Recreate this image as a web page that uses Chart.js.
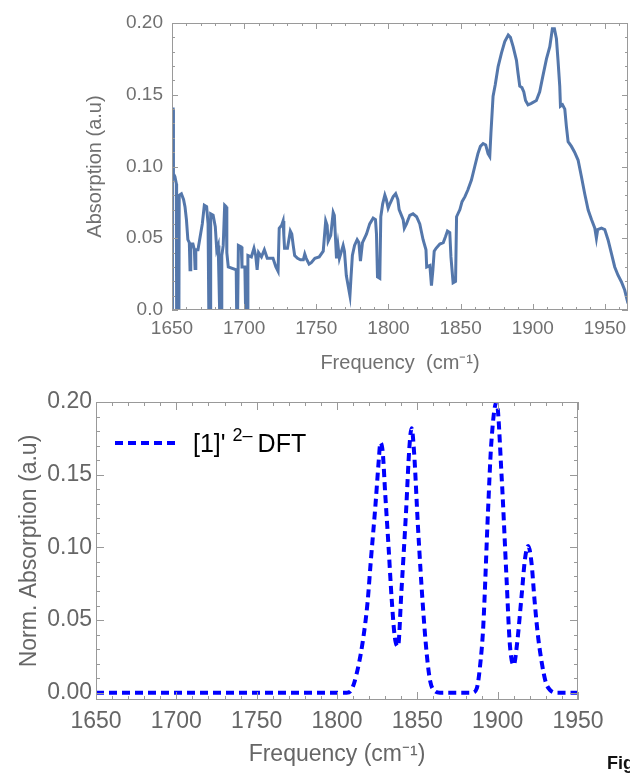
<!DOCTYPE html>
<html>
<head>
<meta charset="utf-8">
<script src="https://cdn.jsdelivr.net/npm/chart.js"></script>
<style>
  html, body { margin: 0; padding: 0; background: #fff; }
  body { width: 630px; height: 773px; position: relative; overflow: hidden; }
  canvas { position: absolute; left: 0; }
  #top { top: 0; }
  #bottom { top: 380px; }
  #fig { position: absolute; left: 607px; top: 753px; font: bold 18px "Liberation Sans", sans-serif; color: #111; white-space: nowrap; }
</style>
</head>
<body>
<canvas id="top" width="630" height="380"></canvas>
<canvas id="bottom" width="630" height="393"></canvas>
<div id="fig">Fig</div>
<script>
// measured spectrum (top panel)
const expFreq = [1650.0, 1650.3, 1650.8, 1651, 1652, 1653, 1653.2, 1654.8, 1655, 1656.5, 1658, 1659, 1660, 1661, 1662, 1662.5, 1663, 1664.5, 1665.5, 1666, 1666.5, 1668, 1669.5, 1671, 1672.4, 1674, 1675, 1675.5, 1676.5, 1676.8, 1678.5, 1680, 1681, 1682, 1682.5, 1683, 1684, 1684.5, 1685.5, 1686.5, 1687.5, 1688, 1689, 1694.5, 1694.8, 1695.5, 1696, 1698, 1698.5, 1700.5, 1701, 1702, 1702.6, 1705, 1706.8, 1708, 1709, 1710, 1712, 1714, 1716, 1718, 1720, 1722, 1723.5, 1724.3, 1726, 1727, 1727.5, 1728, 1730, 1731, 1732, 1733, 1734, 1735, 1737, 1739, 1741, 1742, 1743, 1745, 1746.5, 1749, 1752, 1754.8, 1756.5, 1757.5, 1758.2, 1760, 1761.7, 1762.5, 1763.3, 1764, 1765, 1766, 1768.6, 1769.5, 1770.8, 1773.3, 1774, 1775, 1776.5, 1778.3, 1779.5, 1780.6, 1782, 1784.8, 1787, 1789.4, 1791, 1791.7, 1792.4, 1794, 1794.7, 1796, 1797.5, 1798.5, 1799.8, 1801, 1803.3, 1805, 1806.5, 1807.4, 1810.2, 1811, 1812.5, 1814.8, 1817, 1819.5, 1821.7, 1824, 1826, 1826.5, 1828.7, 1829.8, 1830.8, 1831.7, 1833, 1835.6, 1838, 1839.5, 1840.9, 1842.5, 1843.3, 1844.8, 1846.5, 1847.2, 1849.5, 1851, 1853, 1855, 1857.5, 1859.8, 1862, 1863.7, 1865.6, 1867.4, 1869, 1870.2, 1871, 1872.5, 1874, 1876, 1878.3, 1880.6, 1883, 1884.5, 1886.4, 1888.7, 1889.8, 1891, 1892.5, 1893.8, 1895, 1896.7, 1899, 1902.5, 1904.8, 1907, 1909.5, 1911.8, 1913.6, 1915, 1916.4, 1917.5, 1918.7, 1919.2, 1920.6, 1922.2, 1923.3, 1924.5, 1926.8, 1929, 1931.4, 1933.7, 1936, 1938.4, 1940.7, 1943, 1944.1, 1945, 1947.6, 1949.9, 1952.2, 1954.5, 1956.8, 1959, 1961.4, 1963.7, 1966];
const expAbs = [0.0, 0.14, 0.14, 0.095, 0.093, 0.088, 0.0, 0.0, 0.08, 0.081, 0.077, 0.072, 0.063, 0.049, 0.047, 0.028, 0.046, 0.046, 0.042, 0.029, 0.042, 0.042, 0.051, 0.06, 0.073, 0.072, 0.06, 0.0, 0.0, 0.067, 0.066, 0.058, 0.042, 0.045, 0.023, 0.0, 0.0, 0.038, 0.045, 0.073, 0.072, 0.04, 0.03, 0.028, 0.0, 0.0, 0.045, 0.044, 0.03, 0.03, 0.0, 0.0, 0.038, 0.037, 0.043, 0.038, 0.028, 0.04, 0.037, 0.042, 0.036, 0.036, 0.036, 0.03, 0.027, 0.057, 0.059, 0.062, 0.052, 0.043, 0.043, 0.049, 0.055, 0.053, 0.045, 0.038, 0.036, 0.035, 0.035, 0.039, 0.036, 0.032, 0.033, 0.036, 0.037, 0.041, 0.062, 0.059, 0.048, 0.052, 0.068, 0.066, 0.05, 0.036, 0.045, 0.036, 0.045, 0.041, 0.024, 0.01, 0.022, 0.038, 0.045, 0.049, 0.047, 0.034, 0.047, 0.053, 0.06, 0.064, 0.063, 0.053, 0.023, 0.022, 0.065, 0.074, 0.08, 0.077, 0.071, 0.074, 0.079, 0.081, 0.077, 0.07, 0.063, 0.057, 0.06, 0.066, 0.067, 0.065, 0.06, 0.049, 0.042, 0.03, 0.031, 0.017, 0.028, 0.041, 0.043, 0.046, 0.047, 0.051, 0.055, 0.054, 0.037, 0.019, 0.02, 0.065, 0.07, 0.0755, 0.079, 0.0836, 0.0906, 0.1, 0.109, 0.114, 0.116, 0.115, 0.109, 0.107, 0.123, 0.149, 0.157, 0.1696, 0.179, 0.187, 0.1916, 0.19, 0.1835, 0.174, 0.165, 0.156, 0.155, 0.152, 0.146, 0.143, 0.144, 0.146, 0.152, 0.163, 0.175, 0.1835, 0.196, 0.196, 0.189, 0.174, 0.156, 0.142, 0.143, 0.14, 0.128, 0.1173, 0.114, 0.11, 0.1045, 0.093, 0.081, 0.0697, 0.063, 0.057, 0.05, 0.056, 0.057, 0.056, 0.0488, 0.0395, 0.03, 0.0244, 0.0197, 0.0139, 0.0046];

// DFT spectrum (bottom panel)
const dftFreq = [1650, 1700, 1750, 1800, 1806, 1809, 1812, 1816, 1819, 1821, 1824, 1826, 1827, 1828.5, 1830, 1832, 1834, 1836, 1838, 1840, 1843, 1845, 1846.4, 1848, 1850.4, 1853.5, 1856, 1858, 1861, 1864, 1884, 1887, 1889, 1891, 1894, 1896, 1899.3, 1902.5, 1905.5, 1907.6, 1910, 1912, 1915, 1917, 1919, 1921, 1923, 1925, 1927.4, 1930, 1932.5, 1936, 1950];
const dftAbs = [0, 0, 0, 0, 0, 0.002, 0.012, 0.035, 0.062, 0.09, 0.13, 0.16, 0.172, 0.165, 0.137, 0.102, 0.065, 0.038, 0.032, 0.068, 0.125, 0.168, 0.182, 0.165, 0.114, 0.059, 0.025, 0.008, 0.001, 0, 0, 0.003, 0.018, 0.045, 0.125, 0.171, 0.2, 0.148, 0.079, 0.033, 0.019, 0.033, 0.068, 0.092, 0.101, 0.09, 0.063, 0.04, 0.021, 0.007, 0.002, 0, 0];

const freqTicks = [1650, 1700, 1750, 1800, 1850, 1900, 1950];
const absTicks = [0, 0.05, 0.1, 0.15, 0.2];
const dftLabel = ["[1]'", '2\u2013', 'DFT'];

const toPoints = (xs, ys) => xs.map((x, i) => ({ x: x, y: ys[i] }));

// Mathematica-like frame with inward ticks on all four sides
const framePlugin = {
  id: 'frame',
  afterDatasetsDraw(chart, args, o) {
    const { ctx, chartArea: a, scales: { x, y } } = chart;
    ctx.save();
    ctx.strokeStyle = o.color;
    ctx.lineWidth = 1;
    ctx.strokeRect(a.left + 0.5, a.top + 0.5, a.right - a.left - 1, a.bottom - a.top - 1);
    ctx.beginPath();
    const nx = Math.round((x.max - o.x0) / o.xMinor);
    for (let i = 0; i <= nx; i++) {
      const v = o.x0 + i * o.xMinor;
      if (v > x.max) break;
      const len = (i % o.xEvery === 0) ? o.major : o.minor;
      const px = Math.round(x.getPixelForValue(v)) + 0.5;
      ctx.moveTo(px, a.bottom); ctx.lineTo(px, a.bottom - len);
      ctx.moveTo(px, a.top); ctx.lineTo(px, a.top + len);
    }
    const ny = Math.round((y.max - o.y0) / o.yMinor);
    for (let i = 0; i <= ny; i++) {
      const v = o.y0 + i * o.yMinor;
      const len = (i % o.yEvery === 0) ? o.major : o.minor;
      const py = Math.round(y.getPixelForValue(v)) + 0.5;
      ctx.moveTo(a.left, py); ctx.lineTo(a.left + len, py);
      ctx.moveTo(a.right, py); ctx.lineTo(a.right - len, py);
    }
    ctx.stroke();
    ctx.restore();
  }
};

const legendPlugin = {
  id: 'dftLegend',
  afterDraw(chart) {
    const ctx = chart.ctx;
    ctx.save();
    ctx.strokeStyle = '#0000ff';
    ctx.lineWidth = 4;
    ctx.setLineDash([8, 5]);
    ctx.beginPath();
    ctx.moveTo(115, 63); ctx.lineTo(178, 63);
    ctx.stroke();
    ctx.fillStyle = '#000';
    ctx.textBaseline = 'alphabetic';
    ctx.font = '25px "Liberation Sans", Arial, sans-serif';
    ctx.fillText(dftLabel[0], 193, 72);
    let xPos = 193 + ctx.measureText(dftLabel[0]).width + 7;
    ctx.font = '18px "Liberation Sans", Arial, sans-serif';
    ctx.fillText(dftLabel[1], xPos, 61);
    xPos += ctx.measureText(dftLabel[1]).width + 5;
    ctx.font = '25px "Liberation Sans", Arial, sans-serif';
    ctx.fillText(dftLabel[2], xPos, 72);
    ctx.restore();
  }
};

// top panel: experiment
new Chart(document.getElementById('top'), {
  type: 'line',
  data: {
    datasets: [{
      data: toPoints(expFreq, expAbs),
      borderColor: '#5477ab',
      borderWidth: 3,
      pointRadius: 0,
      tension: 0
    }]
  },
  options: {
    responsive: false,
    animation: false,
    devicePixelRatio: 1,
    layout: { padding: { top: 23, right: 2, left: 0, bottom: 0 } },
    plugins: {
      legend: { display: false },
      tooltip: { enabled: false },
      frame: { color: '#9a9a9a', x0: 1650, xMinor: 10, xEvery: 5, y0: 0, yMinor: 0.01, yEvery: 5, major: 6, minor: 3 }
    },
    scales: {
      x: {
        type: 'linear', min: 1650, max: 1966,
        afterBuildTicks: s => { s.ticks = freqTicks.map(v => ({ value: v })); },
        afterFit: s => { s.height = 70; },
        grid: { display: false },
        border: { display: false },
        ticks: { color: '#707070', font: { family: 'Liberation Sans', size: 19 }, padding: -1, maxRotation: 0, callback: v => String(v) },
        title: { display: true, text: 'Frequency  (cm\u207B\u00B9)', color: '#707070', font: { family: 'Liberation Sans', size: 20 }, padding: { bottom: 5 } }
      },
      y: {
        min: 0, max: 0.2,
        afterBuildTicks: s => { s.ticks = absTicks.map(v => ({ value: v })); },
        afterFit: s => { s.width = 172; },
        grid: { display: false },
        border: { display: false },
        ticks: { color: '#707070', font: { family: 'Liberation Sans', size: 19 }, padding: 1, callback: v => v === 0 ? '0.0' : v.toFixed(2) },
        title: { display: true, text: 'Absorption (a.u)', color: '#707070', font: { family: 'Liberation Sans', size: 20 }, padding: { top: 83 } }
      }
    }
  },
  plugins: [framePlugin]
});

// bottom panel: DFT
new Chart(document.getElementById('bottom'), {
  type: 'line',
  data: {
    datasets: [{
      data: toPoints(dftFreq, dftAbs),
      borderColor: '#0000ff',
      borderWidth: 4,
      borderDash: [8, 5],
      pointRadius: 0,
      cubicInterpolationMode: 'monotone'
    }]
  },
  options: {
    responsive: false,
    animation: false,
    devicePixelRatio: 1,
    layout: { padding: { top: 22, right: 52, left: 0, bottom: 0 } },
    plugins: {
      legend: { display: false },
      tooltip: { enabled: false },
      frame: { color: '#999999', x0: 1650, xMinor: 10, xEvery: 5, y0: 0, yMinor: 0.01, yEvery: 5, major: 8, minor: 4 }
    },
    scales: {
      x: {
        type: 'linear', min: 1650, max: 1950,
        afterBuildTicks: s => { s.ticks = freqTicks.map(v => ({ value: v })); },
        afterFit: s => { s.height = 73; },
        grid: { display: false },
        border: { display: false },
        ticks: { color: '#666666', font: { family: 'Liberation Sans', size: 23 }, padding: 0, maxRotation: 0, callback: v => String(v) },
        title: { display: true, text: 'Frequency (cm\u207B\u00B9)', color: '#666666', font: { family: 'Liberation Sans', size: 23 }, padding: { bottom: 5 } }
      },
      y: {
        min: -0.005, max: 0.2,
        afterBuildTicks: s => { s.ticks = absTicks.map(v => ({ value: v })); },
        afterFit: s => { s.width = 96; },
        grid: { display: false },
        border: { display: false },
        ticks: { color: '#666666', font: { family: 'Liberation Sans', size: 23 }, padding: -4, callback: v => v.toFixed(2) },
        title: { display: true, text: 'Norm. Absorption (a.u)', color: '#666666', font: { family: 'Liberation Sans', size: 23 }, padding: { top: 16 } }
      }
    }
  },
  plugins: [framePlugin, legendPlugin]
});
</script>
</body>
</html>
